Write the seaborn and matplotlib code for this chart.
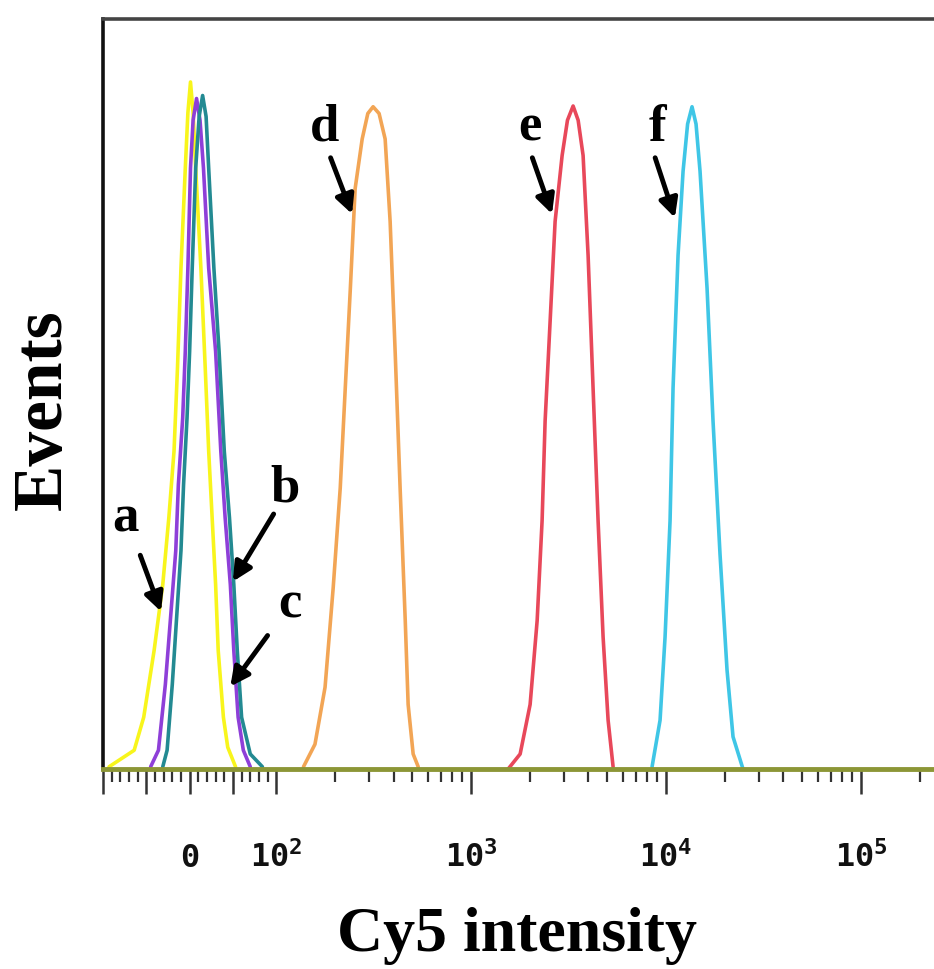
import numpy as np
import pandas as pd
import matplotlib
matplotlib.use("Agg")
import matplotlib.pyplot as plt
import seaborn as sns
from matplotlib.ticker import FixedLocator, FixedFormatter

sns.set_theme(style="white")
plt.rcParams['font.family'] = ['Liberation Serif', 'DejaVu Serif']
plt.rcParams['mathtext.fontset'] = 'custom'
plt.rcParams['mathtext.rm'] = 'DejaVu Sans Mono:bold'
plt.rcParams['mathtext.bf'] = 'DejaVu Sans Mono:bold'

# ---- data (Cy5 intensity, events as % of scale) ----
a_x = [-93, -64, -53, -41, -31, -24, -18, -14, -10, -5, -2, 1, 4, 7, 13, 18, 22, 26, 30, 33, 39, 44, 53]
a_y = [0.3, 2.5, 6.9, 15.8, 24.6, 33.5, 42.4, 53.5, 66.8, 80.1, 87.5, 91.6, 87.5, 80.1, 66.8, 53.5, 42.4, 33.5, 24.6, 15.8, 6.9, 2.9, 0.3]

b_x = [-45, -36, -28, -22, -16, -13, -8, -5, -2, 1, 4, 8, 12, 16, 22, 30, 36, 41, 47, 51, 56, 62, 70]
b_y = [0.3, 2.5, 11.3, 20.2, 29.1, 37.9, 46.8, 55.7, 66.8, 80.1, 86.5, 89.4, 86.5, 80.1, 66.8, 55.7, 42.4, 33.5, 24.6, 15.8, 6.9, 2.5, 0.3]

c_x = [-31, -26, -20, -15, -10, -7, -3, 0, 3, 7, 11, 15, 19, 22, 28, 34, 40, 46, 51, 55, 60, 70, 84]
c_y = [0.3, 2.5, 11.3, 20.2, 29.1, 37.9, 46.8, 55.7, 66.8, 80.1, 87.0, 89.8, 87.0, 80.1, 66.8, 55.7, 42.4, 33.5, 24.6, 15.8, 6.9, 2.0, 0.3]

d_x = [138, 158, 178, 196, 213, 226, 240, 254, 276, 295, 314, 337, 362, 384, 408, 432, 459, 475, 504, 535]
d_y = [0.3, 3.3, 10.9, 24.2, 37.5, 50.8, 64.1, 77.4, 84.0, 87.4, 88.3, 87.4, 84.0, 73.0, 55.2, 37.5, 19.8, 8.6, 2.0, 0.3]

e_x = [1548, 1784, 2007, 2181, 2312, 2396, 2542, 2696, 2929, 3120, 3335, 3540, 3753, 3981, 4222, 4480, 4753, 5043, 5349]
e_y = [0.0, 2.0, 8.6, 19.8, 33.1, 46.4, 59.7, 73.0, 81.8, 86.5, 88.4, 86.5, 81.8, 68.5, 50.8, 33.1, 17.6, 6.5, 0.3]

f_x = [8476, 9316, 9883, 10484, 10862, 11523, 12226, 12900, 13591, 14250, 14941, 16232, 17418, 18922, 20552, 22060, 24820]
f_y = [0.3, 6.5, 17.6, 33.1, 50.8, 68.5, 79.7, 86.0, 88.3, 86.0, 79.7, 64.1, 46.4, 28.6, 13.2, 4.3, 0.0]

samples = ['a', 'b', 'c', 'd', 'e', 'f']
colors = ['#f8f51c', '#8e3fd8', '#238a92', '#f2a555', '#e8485a', '#3fc6e6']

major_ticks = [-100, -50, 0, 50, 100, 1e3, 1e4, 1e5]
major_labels = ['', '', r'$\mathrm{0}$', '', r'$\mathrm{10^{2}}$', r'$\mathrm{10^{3}}$',
                r'$\mathrm{10^{4}}$', r'$\mathrm{10^{5}}$']
minor_ticks = ([-90, -80, -70, -60, -40, -30, -20, -10, 10, 20, 30, 40, 60, 70, 80, 90]
               + [k * 10 ** p for p in (2, 3, 4) for k in range(2, 10)] + [2e5])

# annotation letters: (label, text pos, arrow start, arrow end) in data units
ann_labels = ['a', 'b', 'c', 'd', 'e', 'f']
ann_text = [(-74, 33.5), (111, 37.5), (118, 22.0), (178, 85.6), (2007, 85.6), (8990, 85.6)]
ann_start = [(-57, 28.5), (97, 34.0), (90, 17.8), (190, 81.5), (2060, 81.5), (8790, 81.5)]
ann_end = [(-33, 21.0), (50, 25.0), (47, 11.0), (245, 74.0), (2600, 74.0), (11100, 73.5)]

frames = []
for s, xs, ys in zip(samples, [a_x, b_x, c_x, d_x, e_x, f_x], [a_y, b_y, c_y, d_y, e_y, f_y]):
    frames.append(pd.DataFrame({'intensity': xs, 'events': ys, 'sample': s}))
df = pd.concat(frames, ignore_index=True)

fig = plt.figure(figsize=(9.34, 9.70), dpi=100)
ax = fig.add_axes([103 / 934, 200 / 970, 831 / 934, 750 / 970])

sns.lineplot(data=df, x='intensity', y='events', hue='sample', palette=dict(zip(samples, colors)),
             sort=False, estimator=None, linewidth=2.6, legend=False, ax=ax)

ax.set_xscale('symlog', linthresh=100, linscale=0.40)
ax.set_xlim(-100, 2.37e5)
ax.set_ylim(0, 100)
ax.set_yticks([])

ax.xaxis.set_major_locator(FixedLocator(major_ticks))
ax.xaxis.set_major_formatter(FixedFormatter(major_labels))
ax.xaxis.set_minor_locator(FixedLocator(minor_ticks))
ax.tick_params(axis='x', which='major', direction='out', length=18, width=1.8,
               color='#333333', pad=52, labelsize=23, labelcolor='#111111', bottom=True)
ax.tick_params(axis='x', which='minor', direction='out', length=9, width=1.6,
               color='#333333', bottom=True)
for lab in ax.get_xticklabels():
    lab.set_verticalalignment('baseline')

ax.spines['right'].set_visible(False)
ax.spines['left'].set_color('#111111')
ax.spines['left'].set_linewidth(2.6)
ax.spines['top'].set_color('#444444')
ax.spines['top'].set_linewidth(2.6)
ax.spines['bottom'].set_color('#8c9636')
ax.spines['bottom'].set_linewidth(3.5)

ax.set_xlabel('Cy5 intensity', fontsize=46, fontweight='bold', color='black')
ax.set_ylabel('Events', fontsize=50, fontweight='bold', color='black')
ax.xaxis.set_label_coords(0.498, -0.183)
ax.yaxis.set_label_coords(-0.033, 0.48)

for lab, tp, sp, ep in zip(ann_labels, ann_text, ann_start, ann_end):
    ax.text(tp[0], tp[1], lab, fontsize=38, fontweight='bold', ha='center', va='center', color='black')
    ax.annotate('', xy=ep, xytext=sp,
                arrowprops=dict(arrowstyle='-|>', lw=3.5, color='black', mutation_scale=28,
                                shrinkA=0, shrinkB=0))

fig.savefig('out.png', dpi=100)
